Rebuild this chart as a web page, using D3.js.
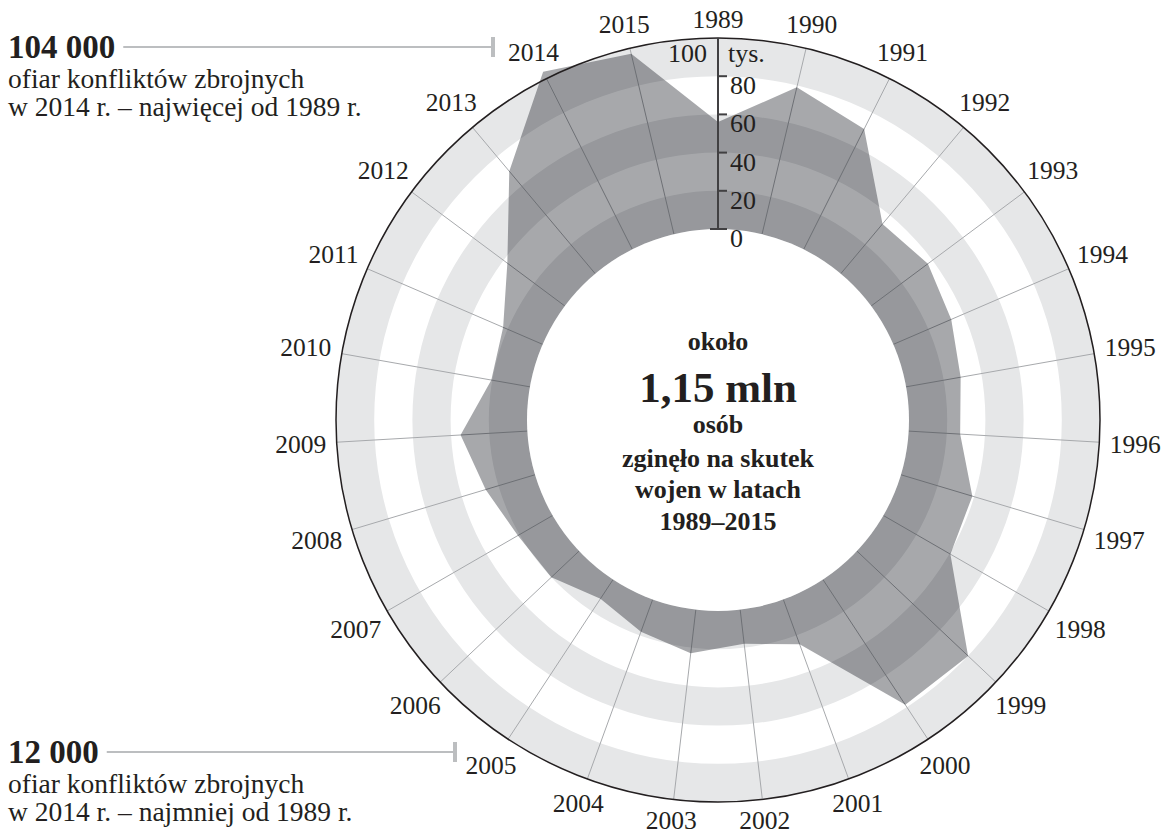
<!DOCTYPE html>
<html>
<head>
<meta charset="utf-8">
<script src="https://cdn.jsdelivr.net/npm/d3@7"></script>
<style>
  body { margin: 0; background: #fff; }
  svg { display: block; font-family: "Liberation Serif", "DejaVu Serif", serif; }
  text { fill: #231f20; }
</style>
</head>
<body>
<svg id="chart" width="1173" height="837"></svg>
<script>
// war deaths per year, thousands
const years = [1989, 1990, 1991, 1992, 1993, 1994, 1995, 1996, 1997, 1998, 1999, 2000, 2001, 2002,
               2003, 2004, 2005, 2006, 2007, 2008, 2009, 2010, 2011, 2012, 2013, 2014, 2015];
const deaths = [56, 79, 70.5, 34, 37, 33, 29, 27, 39, 40.5, 80, 78.5, 25, 18,
                23, 18, 12, 20, 21, 27, 35, 20.5, 22.5, 37.5, 70, 104, 97];
const ticks = [0, 20, 40, 60, 80];
const bands = [[0, 20], [40, 60], [80, 100]];
const centerLines = ["około", "1,15 mln", "osób", "zginęło na skutek", "wojen w latach", "1989–2015"];

const cx = 718, cy = 420;
const svg = d3.select('#chart');
const g = svg.append('g').attr('transform', `translate(${cx},${cy})`);

const r = d3.scaleLinear().domain([0, 100]).range([191, 382]);
const angle = d3.scaleLinear().domain([0, years.length]).range([0, 2 * Math.PI]);

// background rings
const arc = d3.arc().startAngle(0).endAngle(2 * Math.PI);
g.selectAll('.band')
  .data(bands)
  .enter()
  .append('path')
  .attr('d', d => arc({ innerRadius: r(d[0]), outerRadius: r(d[1]) }))
  .attr('fill', '#e6e7e8');

// spokes (1989 gets the axis instead)
g.selectAll('.spoke')
  .data(years.slice(1))
  .enter()
  .append('line')
  .attr('x1', (d, i) => r(0) * Math.sin(angle(i + 1)))
  .attr('y1', (d, i) => -r(0) * Math.cos(angle(i + 1)))
  .attr('x2', (d, i) => r(100) * Math.sin(angle(i + 1)))
  .attr('y2', (d, i) => -r(100) * Math.cos(angle(i + 1)))
  .attr('stroke', '#a7a9ac')
  .attr('stroke-width', 1);

const radial = d3.lineRadial()
  .angle((d, i) => angle(i))
  .radius(d => r(d))
  .curve(d3.curveLinearClosed);

g.append('path')
  .datum(deaths)
  .attr('d', radial)
  .attr('fill', 'rgb(4,6,15)')
  .attr('fill-opacity', 0.35);

g.append('circle').attr('r', r(0)).attr('fill', '#fff');

g.append('circle')
  .attr('r', r(100))
  .attr('fill', 'none')
  .attr('stroke', '#231f20')
  .attr('stroke-width', 1.5);

// value axis along 1989
g.append('line')
  .attr('x1', 0).attr('x2', 0)
  .attr('y1', -r(0)).attr('y2', -r(100))
  .attr('stroke', '#414042')
  .attr('stroke-width', 2);

g.selectAll('.tick')
  .data(ticks)
  .enter()
  .append('line')
  .attr('x1', d => d === 0 ? -8 : -1)
  .attr('x2', 9)
  .attr('y1', d => -r(d))
  .attr('y2', d => -r(d))
  .attr('stroke', '#414042')
  .attr('stroke-width', 2);

g.selectAll('.tickLabel')
  .data(ticks)
  .enter()
  .append('text')
  .attr('x', 12)
  .attr('y', d => -r(d) + 18)
  .attr('font-size', 26)
  .text(d => d);

g.append('text').attr('x', -11).attr('y', -r(100) + 24).attr('text-anchor', 'end')
  .attr('font-size', 26).text('100');
g.append('text').attr('x', 10).attr('y', -r(100) + 24)
  .attr('font-size', 26).text('tys.');

// year labels around the rim
const fs = 25.5, gap = 10;
g.selectAll('.year')
  .data(years)
  .enter()
  .append('text')
  .attr('font-size', fs)
  .attr('text-anchor', 'middle')
  .each(function (d, i) {
    const a = angle(i);
    const ux = Math.sin(a), uy = -Math.cos(a);
    const w = 2 * fs, h = 0.66 * fs;
    const off = r(100) + gap + Math.abs(ux) * w / 2 + Math.abs(uy) * h / 2;
    d3.select(this)
      .attr('x', ux * off)
      .attr('y', uy * off + h / 2)
      .text(d);
  });

// centre text
const lineY = [-70, -18, 13, 47, 78, 110];
const lineSize = [26, 43, 26, 26, 26, 26];
g.selectAll('.center')
  .data(centerLines)
  .enter()
  .append('text')
  .attr('text-anchor', 'middle')
  .attr('font-weight', 'bold')
  .attr('x', 0)
  .attr('y', (d, i) => lineY[i])
  .attr('font-size', (d, i) => lineSize[i])
  .text(d => d);

// side notes
function note(y, big, line2, lineEnd) {
  const t = svg.append('text').attr('x', 8).attr('y', y).attr('font-size', 33).attr('font-weight', 'bold').text(big);
  const bw = t.node().getComputedTextLength();
  svg.append('line')
    .attr('x1', 8 + bw + 8).attr('x2', lineEnd)
    .attr('y1', y - 11).attr('y2', y - 11)
    .attr('stroke', '#bcbec0').attr('stroke-width', 2);
  svg.append('line')
    .attr('x1', lineEnd).attr('x2', lineEnd)
    .attr('y1', y - 21).attr('y2', y - 1)
    .attr('stroke', '#bcbec0').attr('stroke-width', 4);
  svg.append('text').attr('x', 8).attr('y', y + 30).attr('font-size', 27.5).text('ofiar konfliktów zbrojnych');
  svg.append('text').attr('x', 8).attr('y', y + 58).attr('font-size', 27.5).text(line2);
}
note(58, '104 000', 'w 2014 r. – najwięcej od 1989 r.', 493);
note(763, '12 000', 'w 2014 r. – najmniej od 1989 r.', 455);
</script>
</body>
</html>
